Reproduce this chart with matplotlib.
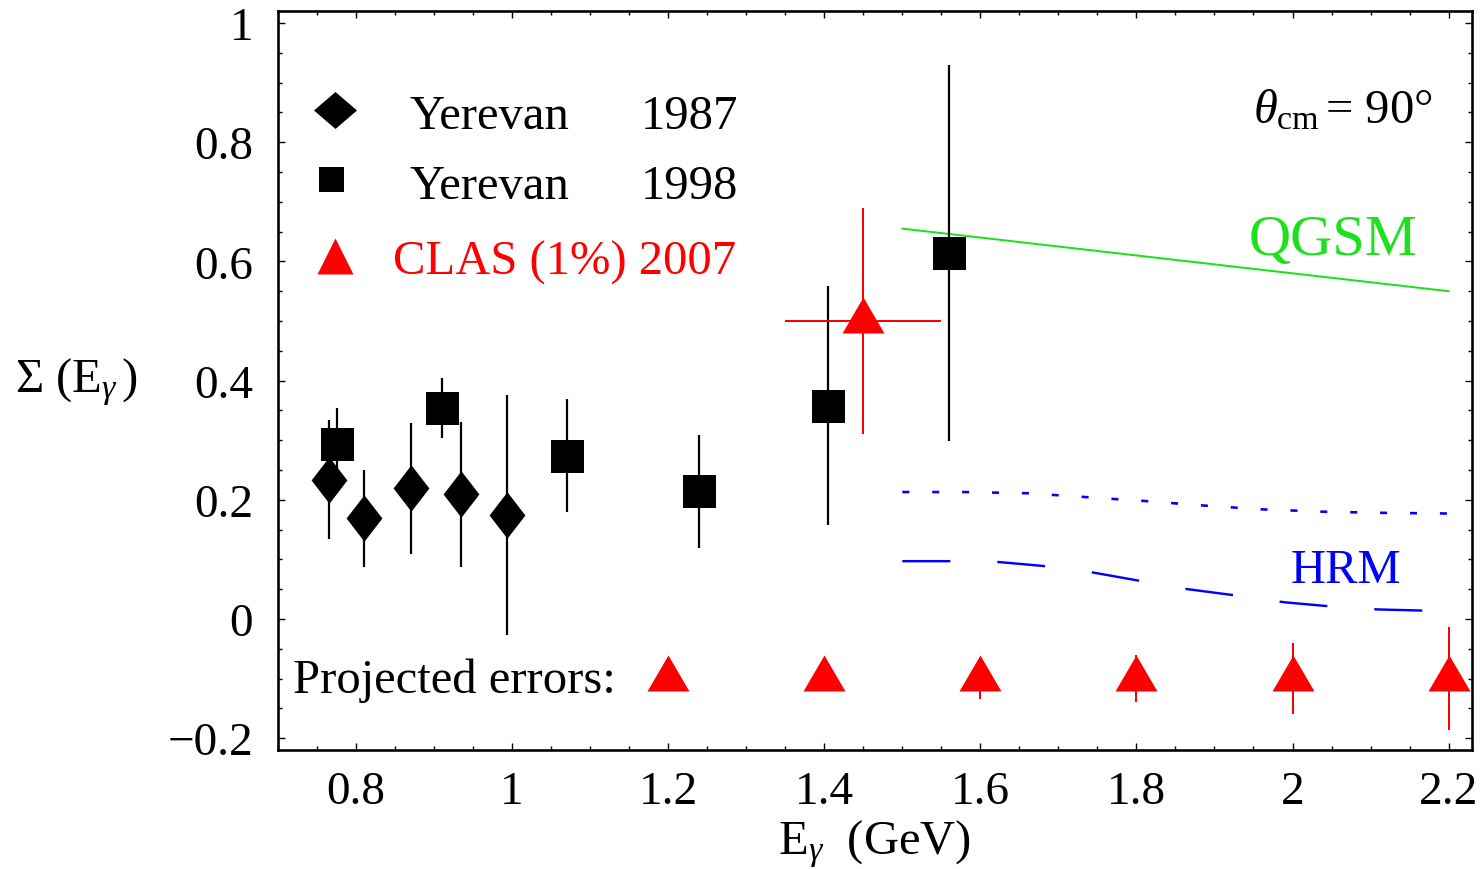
import matplotlib
matplotlib.use("Agg")
import matplotlib.pyplot as plt
from matplotlib.path import Path
from matplotlib.ticker import MultipleLocator, FuncFormatter

plt.rcParams['font.family'] = ['Liberation Serif', 'DejaVu Serif']
plt.rcParams['mathtext.fontset'] = 'custom'
plt.rcParams['mathtext.rm'] = 'Liberation Serif'
plt.rcParams['mathtext.it'] = 'Liberation Serif:italic'
plt.rcParams['mathtext.bf'] = 'Liberation Serif:bold'

# ---- data -------------------------------------------------------------
yerevan87_E = [0.765, 0.810, 0.870, 0.935, 0.994]
yerevan87_S = [0.234, 0.169, 0.219, 0.209, 0.174]
yerevan87_err = [0.100, 0.081, 0.110, 0.121, 0.201]

yerevan98_E = [0.775, 0.910, 1.070, 1.239, 1.405, 1.560]
yerevan98_S = [0.293, 0.354, 0.274, 0.214, 0.358, 0.614]
yerevan98_err = [0.061, 0.051, 0.095, 0.095, 0.200, 0.315]

clas_E = [1.45]
clas_S = [0.50]
clas_Eerr = [0.10]
clas_Serr = [0.19]

proj_E = [1.2, 1.4, 1.6, 1.8, 2.0, 2.2]
proj_S = [-0.1, -0.1, -0.1, -0.1, -0.1, -0.1]
proj_err = [0.015, 0.020, 0.034, 0.040, 0.060, 0.087]

qgsm_E = [1.5, 2.2]
qgsm_S = [0.655, 0.550]

hrm_dot_E = [1.50, 1.58, 1.66, 1.73, 1.81, 1.89, 1.96, 2.04, 2.12, 2.20]
hrm_dot_S = [0.213, 0.213, 0.211, 0.205, 0.198, 0.190, 0.184, 0.180, 0.178, 0.177]

hrm_dash_E = [1.50, 1.56, 1.62, 1.68, 1.74, 1.80, 1.86, 1.93, 1.99, 2.05, 2.11, 2.17, 2.20]
hrm_dash_S = [0.097, 0.097, 0.096, 0.089, 0.079, 0.065, 0.051, 0.039, 0.028, 0.021, 0.016, 0.014, 0.013]

x_ticks = [0.8, 1.0, 1.2, 1.4, 1.6, 1.8, 2.0, 2.2]
y_ticks = [-0.2, 0.0, 0.2, 0.4, 0.6, 0.8, 1.0]

# ---- styles -----------------------------------------------------------
RED = '#ff0000'
BLUE = '#0000ff'
GREEN = '#1ee01e'
PX = 0.72  # points per pixel at dpi=100

# tall diamond for data, wide diamond for legend key
diamond_tall = Path([(0, 1), (0.77, 0), (0, -1), (-0.77, 0), (0, 1)], closed=True)
diamond_wide = Path([(1, 0), (0, 0.86), (-1, 0), (0, -0.86), (1, 0)], closed=True)
# triangle with its centroid on the data point
tri_centroid = Path([(0, 24), (-21, -12), (21, -12), (0, 24)], closed=True)
tri_key = Path([(0, 1), (-1, -1), (1, -1), (0, 1)], closed=True)

fig = plt.figure(figsize=(14.84, 8.70), dpi=100)
ax = fig.add_axes([278 / 1484, 1 - 751.1 / 870, 1194 / 1484, 739 / 870])

ax.set_xlim(0.7, 2.23)
ax.set_ylim(-0.22, 1.02)

# theory curves
ax.plot(qgsm_E, qgsm_S, color=GREEN, lw=2.0 * PX, zorder=1)
ax.plot(hrm_dot_E, hrm_dot_S, color=BLUE, lw=2.6 * PX, zorder=1,
        linestyle=(0, (2.7, 8.8)), dash_capstyle='butt')
ax.plot(hrm_dash_E, hrm_dash_S, color=BLUE, lw=2.4 * PX, zorder=1,
        linestyle=(0, (20.0, 19.6)), dash_capstyle='butt')

# Yerevan 1987
ax.errorbar(yerevan87_E, yerevan87_S, yerr=yerevan87_err, fmt='none',
            ecolor='black', elinewidth=2.2 * PX, capsize=0, zorder=2)
ax.plot(yerevan87_E, yerevan87_S, ls='none', marker=diamond_tall,
        ms=46.5 * PX, mfc='black', mec='black', mew=0, zorder=3)

# Yerevan 1998
ax.errorbar(yerevan98_E, yerevan98_S, yerr=yerevan98_err, fmt='none',
            ecolor='black', elinewidth=2.2 * PX, capsize=0, zorder=2)
ax.plot(yerevan98_E, yerevan98_S, ls='none', marker='s',
        ms=33 * PX, mfc='black', mec='black', mew=0, zorder=3)

# CLAS measured point
ax.errorbar(clas_E, clas_S, xerr=clas_Eerr, yerr=clas_Serr, fmt='none',
            ecolor=RED, elinewidth=2.0 * PX, capsize=0, zorder=4)
ax.plot(clas_E, clas_S, ls='none', marker=tri_centroid,
        ms=48 * PX, mfc=RED, mec=RED, mew=0, zorder=5)

# projected errors
ax.errorbar(proj_E, proj_S, yerr=proj_err, fmt='none',
            ecolor=RED, elinewidth=2.0 * PX, capsize=0, zorder=4)
ax.plot(proj_E, proj_S, ls='none', marker=tri_centroid,
        ms=48 * PX, mfc=RED, mec=RED, mew=0, zorder=5, clip_on=False)

# axes styling
ax.xaxis.set_minor_locator(MultipleLocator(0.05))
ax.yaxis.set_minor_locator(MultipleLocator(0.05))
ax.set_xticks(x_ticks)
ax.set_yticks(y_ticks)


def fmt(v, pos):
    v = round(v, 6)
    if v == 0:
        return '0'
    return f'{v:g}'.replace('-', '\u2212')


ax.xaxis.set_major_formatter(FuncFormatter(fmt))
ax.yaxis.set_major_formatter(FuncFormatter(fmt))
ax.tick_params(which='both', direction='in', top=True, right=True,
               labelsize=34, width=1.4 * PX)
ax.tick_params(which='major', length=7 * PX)
ax.tick_params(which='minor', length=4 * PX)
ax.tick_params(axis='x', pad=15)
ax.tick_params(axis='y', pad=18)
for s in ax.spines.values():
    s.set_linewidth(2.6 * PX)

ax.set_xlabel(r'$\mathrm{E}_{\gamma}$  (GeV)', fontsize=35, labelpad=3)
fig.text(15 / 1484, 1 - 392.7 / 870, r'$\Sigma\ (\mathrm{E}_{\gamma}\,)$',
         fontsize=35, ha='left', va='baseline')


def axfrac(px, py):
    return ((px - 278) / 1194, (751.1 - py) / 739)


# legend keys and labels
kx, ky = axfrac(335.3, 110.7)
ax.plot([kx], [ky], transform=ax.transAxes, marker=diamond_wide, ms=43 * PX,
        mfc='black', mew=0, ls='none', clip_on=False)
kx, ky = axfrac(331, 180)
ax.plot([kx], [ky], transform=ax.transAxes, marker='s', ms=25 * PX,
        mfc='black', mew=0, ls='none', clip_on=False)
kx, ky = axfrac(335.2, 257.2)
ax.plot([kx], [ky], transform=ax.transAxes, marker=tri_key, ms=36 * PX,
        mfc=RED, mew=0, ls='none', clip_on=False)

tx, ty = axfrac(410, 129)
ax.text(tx, ty, 'Yerevan', transform=ax.transAxes, fontsize=35, va='baseline')
tx, ty = axfrac(640.7, 129)
ax.text(tx, ty, '1987', transform=ax.transAxes, fontsize=35, va='baseline')
tx, ty = axfrac(410, 199)
ax.text(tx, ty, 'Yerevan', transform=ax.transAxes, fontsize=35, va='baseline')
tx, ty = axfrac(640.7, 199)
ax.text(tx, ty, '1998', transform=ax.transAxes, fontsize=35, va='baseline')
tx, ty = axfrac(393.3, 275)
ax.text(tx, ty, 'CLAS (1%) 2007', transform=ax.transAxes, fontsize=35,
        va='baseline', color=RED)

# annotations
tx, ty = axfrac(1433, 123.3)
ax.text(tx, ty, r'$\theta_{\mathrm{cm}}\,$= 90°', transform=ax.transAxes,
        fontsize=35, ha='right', va='baseline')
tx, ty = axfrac(1333, 255)
ax.text(tx, ty, 'QGSM', transform=ax.transAxes, fontsize=42, ha='center',
        va='baseline', color=GREEN)
tx, ty = axfrac(1346.3, 583.3)
ax.text(tx, ty, 'HRM', transform=ax.transAxes, fontsize=35, ha='center',
        va='baseline', color=BLUE)
tx, ty = axfrac(293, 693)
ax.text(tx, ty, 'Projected errors:', transform=ax.transAxes, fontsize=35,
        ha='left', va='baseline')

fig.savefig('out.png', dpi=100)
